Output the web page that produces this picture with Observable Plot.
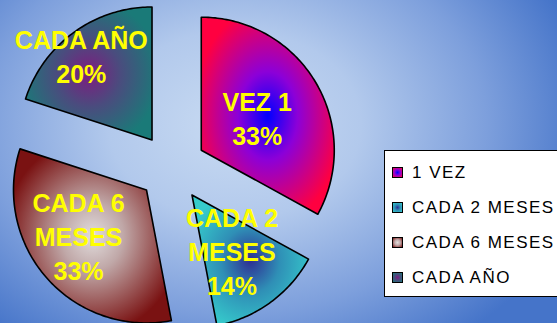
<!DOCTYPE html>
<html><head><meta charset="utf-8">
<script src="https://cdn.jsdelivr.net/npm/d3@7"></script>
<script src="https://cdn.jsdelivr.net/npm/@observablehq/plot@0.6"></script>
<style>
html,body{margin:0;padding:0;background:#fff;}
#wrap{position:relative;width:557px;height:323px;overflow:hidden;
 background: radial-gradient(ellipse 360px 270px at 235px 125px, #c9dbf2 0%, #b2c9ec 35%, #7d9fdc 70%, #4574c9 100%);}
#chart{position:absolute;left:0;top:0;}
#legend{position:absolute;left:384px;top:150px;width:190px;height:147px;background:#fff;border:1.5px solid #000;box-sizing:border-box;
 font-family:"Liberation Sans",Arial,sans-serif;font-size:17px;letter-spacing:1.5px;color:#000;}
.row{position:absolute;left:0;height:20px;line-height:20px;white-space:nowrap;}
.sw{position:absolute;left:7px;top:4px;width:11px;height:11px;border:1.5px solid #000;box-sizing:border-box;}
.lt{position:absolute;left:27px;top:0;}
</style></head>
<body>
<div id="wrap"><div id="chart"></div><div id="legend"></div></div>
<script>
// ---- data ----
const categories = ["1 VEZ", "CADA 2 MESES", "CADA 6 MESES", "CADA AÑO"];
const values = [33, 14, 33, 20];
const sliceLabels = ["VEZ 1", "CADA 2\nMESES", "CADA 6\nMESES", "CADA AÑO"];
const centerColors = ["#0000ff", "#2e2e92", "#e2dede", "#7e1c80"];
const midColors = ["#8c00d8", "#2f8fb6", "#c0a8a8", "#4a4c7e"];
const edgeColors = ["#ff0040", "#36cccc", "#7a1212", "#1a7a78"];

// ---- layout ----
const W = 557, H = 323;
const C = {x: 171.5, y: 167}, R = 133, EXPLODE = 34;
const labelT = [65, 68, 68, 105];
const labelDx = [0, 0, -17, -9];
const midStop = ["40%", "45%", "35%", "45%"];

const pie = d3.pie().sort(null).value(d => d)(values);
const polys = [];
const labelRows = [];
pie.forEach((p, i) => {
  const mid = (p.startAngle + p.endAngle) / 2;
  const ax = C.x + EXPLODE * Math.sin(mid), ay = C.y - EXPLODE * Math.cos(mid);
  const pts = [{i, x: ax, y: ay}];
  const n = Math.ceil((p.endAngle - p.startAngle) / (Math.PI / 180));
  for (let k = 0; k <= n; k++) {
    const a = p.startAngle + (p.endAngle - p.startAngle) * k / n;
    pts.push({i, x: ax + R * Math.sin(a), y: ay - R * Math.cos(a)});
  }
  pts.push({i, x: ax, y: ay});
  polys.push(pts);
  labelRows.push({
    x: ax + labelT[i] * Math.sin(mid) + labelDx[i],
    y: ay - labelT[i] * Math.cos(mid),
    text: sliceLabels[i] + "\n" + values[i] + "%"
  });
});

const marks = polys.map((pts, i) => Plot.line(pts, {
  x: "x", y: "y", curve: "linear",
  fill: `url(#slicegrad${i})`, stroke: "#000", strokeWidth: 1.6, strokeLinejoin: "round"
}));
marks.push(Plot.text(labelRows, {
  x: "x", y: "y", text: "text", fill: "#ffff00",
  fontSize: 25, fontWeight: "bold", fontFamily: "Liberation Sans, Arial, sans-serif",
  lineHeight: 1.35
}));

const svg = Plot.plot({
  width: W, height: H,
  marginTop: 0, marginRight: 0, marginBottom: 0, marginLeft: 0,
  x: {type: "linear", domain: [0, W], range: [0, W], axis: null},
  y: {type: "linear", domain: [0, H], range: [0, H], axis: null},
  style: {background: "none", overflow: "hidden"},
  marks
});

const defs = d3.select(svg).insert("defs", ":first-child");
categories.forEach((c, i) => {
  const g = defs.append("radialGradient").attr("id", `slicegrad${i}`)
    .attr("cx", 0.5).attr("cy", 0.5).attr("r", 0.56);
  g.append("stop").attr("offset", "0%").attr("stop-color", centerColors[i]);
  g.append("stop").attr("offset", midStop[i]).attr("stop-color", midColors[i]);
  g.append("stop").attr("offset", "100%").attr("stop-color", edgeColors[i]);
});
document.getElementById("chart").appendChild(svg);

// legend
const legend = document.getElementById("legend");
categories.forEach((c, i) => {
  const row = document.createElement("div");
  row.className = "row";
  row.style.top = (12 + i * 35) + "px";
  const sw = document.createElement("div");
  sw.className = "sw";
  sw.style.background = `radial-gradient(circle, ${centerColors[i]} 0%, ${midColors[i]} 45%, ${edgeColors[i]} 100%)`;
  const t = document.createElement("span");
  t.className = "lt";
  t.textContent = c;
  row.appendChild(sw); row.appendChild(t);
  legend.appendChild(row);
});
</script>
</body></html>
